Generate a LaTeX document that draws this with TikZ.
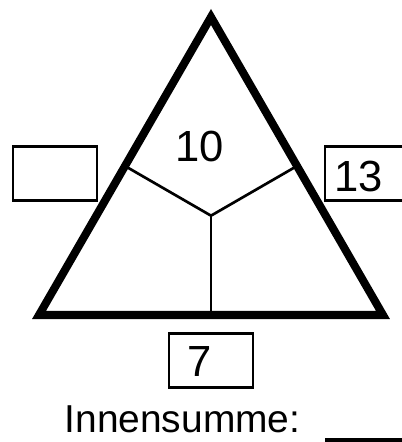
\documentclass[tikz,border=0pt]{standalone}
\usepackage{fontspec}
\setmainfont{Liberation Sans}
\begin{document}
\begin{tikzpicture}[
  thickline/.style={line width=5.7pt, line join=miter},
  thinline/.style={line width=1.9pt},
  answerbox/.style={draw, line width=1.8pt, minimum width=2.09cm, minimum height=1.36cm, inner sep=0pt},
  numtext/.style={font=\fontsize{31}{36}\selectfont, anchor=base, inner sep=0pt}
]
  \clip (0,0) rectangle (10.05,11.05);
  % Corners and centre of the triangle
  \coordinate (top) at (5.275,10.625);
  \coordinate (left) at (0.975,3.175);
  \coordinate (right) at (9.575,3.175);
  \coordinate (mid) at (5.275,5.658);
  % Midpoints of the sides
  \coordinate (sideL) at (3.125,6.9);
  \coordinate (sideR) at (7.425,6.9);
  \coordinate (sideB) at (5.275,3.175);
  % Inner lines
  \draw[thinline] (sideL) -- (mid) -- (sideR);
  \draw[thinline] (mid) -- (sideB);
  % Triangle
  \draw[thickline] (top) -- (left) -- (right) -- cycle;
  % Boxes at the sides
  \node[answerbox] (boxL) at (1.375,6.7125) {};
  \node[answerbox] (boxR) at (9.175,6.7125) {};
  \node[answerbox] (boxB) at (5.275,2.0375) {};
  % Numbers
  \node[numtext] (inner) at (4.99,7.0) {10};
  \node[numtext] (numR) at (8.96,6.25) {13};
  \node[numtext] (numB) at (5.0,1.625) {7};
  % Inner sum
  \node[font=\fontsize{27.7}{33}\selectfont, anchor=base, inner sep=0pt] (sum) at (4.5625,0.225) {Innensumme:};
  \coordinate (blankL) at (8.125,0.06);
  \coordinate (blankR) at (10.3,0.06);
  \draw[line width=2.8pt] (blankL) -- (blankR);
\end{tikzpicture}
\end{document}
